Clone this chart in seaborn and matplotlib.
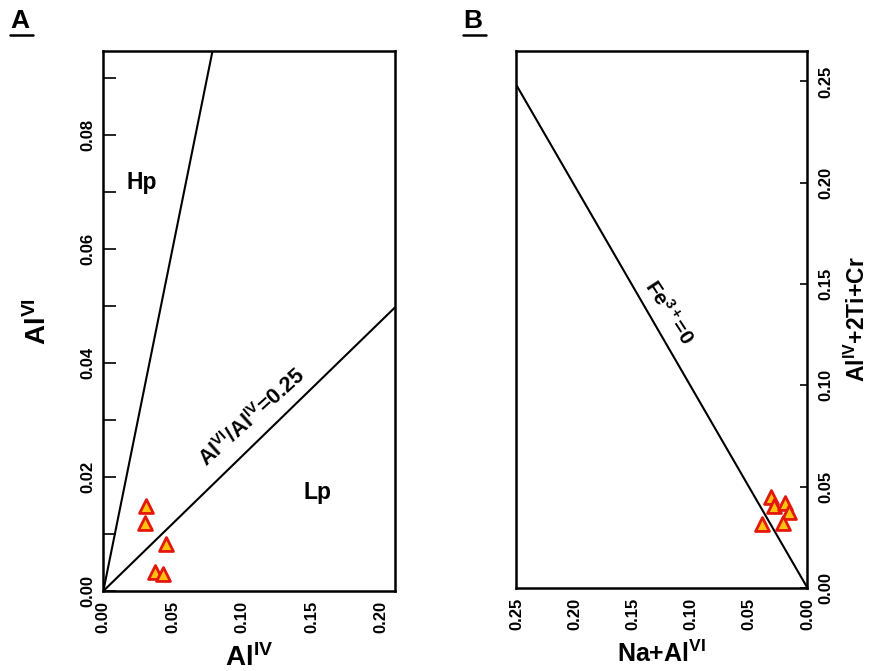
import matplotlib
matplotlib.use("Agg")
import matplotlib.pyplot as plt
from matplotlib.lines import Line2D
from matplotlib.transforms import ScaledTranslation
import seaborn as sns
import pandas as pd

# ---------------- data ----------------
# Panel A: Al(IV) vs Al(VI)
a_aliv = [0.0305, 0.0300, 0.0449, 0.0372, 0.0427]
a_alvi = [0.0150, 0.0120, 0.0083, 0.0033, 0.0030]
# boundary lines in panel A
hp_line_x = [0.0, 0.0786]
hp_line_y = [0.0, 0.0948]
lp_line_x = [0.0, 0.21]
lp_line_y = [0.0, 0.0498]
a_xticks = [0.00, 0.05, 0.10, 0.15, 0.20]
a_yticks = [0.00, 0.02, 0.04, 0.06, 0.08]

# Panel B: Na+Al(VI) vs Al(IV)+2Ti+Cr
b_naalvi = [0.0316, 0.0288, 0.0193, 0.0161, 0.0213, 0.0387]
b_altic = [0.0449, 0.0403, 0.0418, 0.0377, 0.0322, 0.0314]
fe_line_x = [0.0, 0.25]
fe_line_y = [0.0, 0.248]
b_xticks = [0.00, 0.05, 0.10, 0.15, 0.20, 0.25]
b_yticks = [0.00, 0.05, 0.10, 0.15, 0.20, 0.25]

# ---------------- style ----------------
sns.set_theme(style="white")
plt.rcParams['font.family'] = ['Liberation Sans', 'DejaVu Sans']
plt.rcParams['font.weight'] = 'bold'
plt.rcParams['mathtext.fontset'] = 'custom'
plt.rcParams['mathtext.rm'] = 'Liberation Sans:bold'
plt.rcParams['mathtext.bf'] = 'Liberation Sans:bold'
plt.rcParams['mathtext.it'] = 'Liberation Sans:bold'
plt.rcParams['mathtext.default'] = 'bf'
for key in ('text.color', 'axes.labelcolor', 'xtick.color', 'ytick.color', 'axes.edgecolor'):
    plt.rcParams[key] = 'black'

FILL = '#FFC20E'
EDGE = '#E3170A'
TICK_FS = 12

fig = plt.figure(figsize=(8.69, 6.71), dpi=100)
axA = fig.add_axes([0.1189, 0.1192, 0.3357, 0.8048])
axB = fig.add_axes([0.5938, 0.1237, 0.3354, 0.8003])

dfA = pd.DataFrame({'x': a_aliv, 'y': a_alvi})
dfB = pd.DataFrame({'x': b_naalvi, 'y': b_altic})

# ---- Panel A ----
sns.lineplot(x=hp_line_x, y=hp_line_y, ax=axA, color='black', lw=1.5, sort=False)
sns.lineplot(x=lp_line_x, y=lp_line_y, ax=axA, color='black', lw=1.5, sort=False)
sns.scatterplot(data=dfA, x='x', y='y', ax=axA, marker='^', s=100,
                color=FILL, edgecolor=EDGE, linewidth=2, zorder=5, clip_on=False)
axA.set_xlim(0, 0.21)
axA.set_ylim(0, 0.0948)
axA.set_xticks(a_xticks)
axA.set_xticklabels([f"{v:.2f}" for v in a_xticks], rotation=90,
                    fontsize=TICK_FS, fontweight='bold')
shift = ScaledTranslation(5 / 72, 0, fig.dpi_scale_trans)
for lab in axA.get_xticklabels():
    lab.set_transform(lab.get_transform() + shift)
axA.set_yticks(a_yticks)
axA.set_yticklabels([f"{v:.2f}" for v in a_yticks], rotation=90, va='center',
                    fontsize=TICK_FS, fontweight='bold')
axA.set_yticks([0.01, 0.03, 0.05, 0.07, 0.09], minor=True)
axA.tick_params(axis='y', which='both', direction='in', length=9, width=1.2,
                left=True, pad=6)
axA.tick_params(axis='x', which='both', length=0, pad=7)
axA.set_xlabel(r"Al$^{IV}$", fontsize=20, fontweight='bold', labelpad=8)
axA.set_ylabel(r"Al$^{VI}$", fontsize=20, fontweight='bold', labelpad=20)
axA.text(0.0276, 0.0717, "Hp", fontsize=16.5, fontweight='bold', ha='center', va='center')
axA.text(0.1545, 0.0173, "Lp", fontsize=16.5, fontweight='bold', ha='center', va='center')
axA.text(0.107, 0.0305, r"Al$^{VI}$/Al$^{IV}$=0.25", fontsize=15.5, fontweight='bold',
         rotation=42, ha='center', va='center', rotation_mode='anchor')

# ---- Panel B ----
sns.lineplot(x=fe_line_x, y=fe_line_y, ax=axB, color='black', lw=1.5, sort=False)
sns.scatterplot(data=dfB, x='x', y='y', ax=axB, marker='^', s=100,
                color=FILL, edgecolor=EDGE, linewidth=2, zorder=5, clip_on=False)
axB.set_xlim(0.2505, 0)
axB.set_ylim(0, 0.265)
axB.set_xticks(b_xticks)
axB.set_xticklabels([f"{v:.2f}" for v in b_xticks], rotation=90,
                    fontsize=TICK_FS, fontweight='bold')
axB.yaxis.tick_right()
axB.yaxis.set_label_position('right')
axB.set_yticks(b_yticks)
axB.set_yticklabels([f"{v:.2f}" for v in b_yticks], rotation=90, va='center',
                    fontsize=TICK_FS, fontweight='bold')
axB.tick_params(axis='y', which='both', direction='in', length=5, width=1.2,
                right=True, left=False, pad=8)
axB.tick_params(axis='x', which='both', length=0, pad=7)
axB.set_xlabel(r"Na+Al$^{VI}$", fontsize=18, fontweight='bold', labelpad=8)
axB.set_ylabel(r"Al$^{IV}$+2Ti+Cr", fontsize=16.5, fontweight='bold', labelpad=8)
axB.text(0.119, 0.136, r"Fe$^{3+}$=0", fontsize=15, fontweight='bold',
         rotation=-57, ha='center', va='center', rotation_mode='anchor')

for ax in (axA, axB):
    for sp in ax.spines.values():
        sp.set_visible(True)
        sp.set_color('black')
        sp.set_linewidth(1.8)
    ax.grid(False)
    legend = ax.get_legend()
    if legend:
        legend.remove()

# panel letters with underline
for letter, x0 in (("A", 10 / 869), ("B", 463 / 869)):
    fig.text(x0, 1 - 9 / 671, letter, fontsize=19, fontweight='bold',
             ha='left', va='top')
    fig.add_artist(Line2D([x0, x0 + 23 / 869], [1 - 35 / 671, 1 - 35 / 671],
                          color='black', lw=1.8, transform=fig.transFigure))

fig.savefig("out.png", dpi=100)
